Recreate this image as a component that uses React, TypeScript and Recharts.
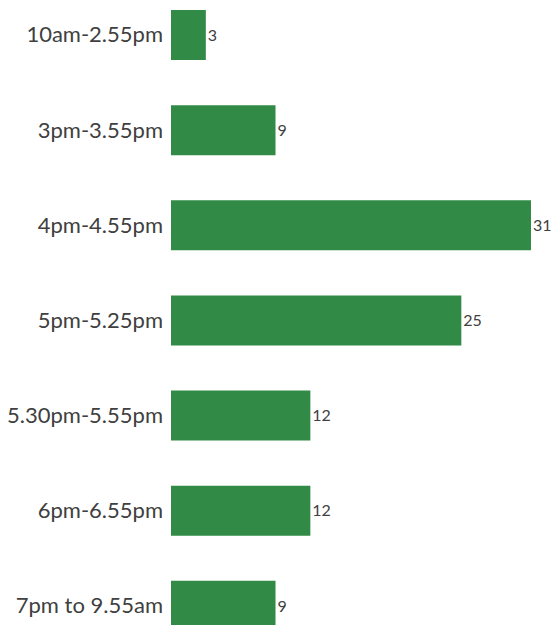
import { BarChart, Bar, XAxis, YAxis, LabelList } from 'recharts';

const slots = [
  '10am-2.55pm',
  '3pm-3.55pm',
  '4pm-4.55pm',
  '5pm-5.25pm',
  '5.30pm-5.55pm',
  '6pm-6.55pm',
  '7pm to 9.55am'
];
const counts = [3, 9, 31, 25, 12, 12, 9];

const data = slots.map((slot, i) => ({ slot, count: counts[i] }));

const FONT = 'Lato, "Noto Sans", sans-serif';

export default function App() {
  return (
    <div
      style={{
        position: 'absolute',
        top: 0,
        left: 0,
        width: 557,
        height: 625,
        overflow: 'hidden',
        background: '#fff'
      }}
    >
      <div style={{ marginTop: -13 }}>
        <BarChart
          width={557}
          height={666}
          data={data}
          layout="vertical"
          margin={{ top: 0, right: 26, bottom: 0, left: 0 }}
          barCategoryGap={22}
        >
          <XAxis type="number" domain={[0, 31]} hide />
          <YAxis
            type="category"
            dataKey="slot"
            width={171}
            axisLine={false}
            tickLine={false}
            tickMargin={2}
            tick={{ fill: '#404040', fontSize: 22, fontFamily: FONT }}
          />
          <Bar dataKey="count" fill="#318b46" barSize={50} isAnimationActive={false}>
            <LabelList
              dataKey="count"
              position="right"
              offset={2}
              style={{ fill: '#404040', fontSize: 16, fontFamily: FONT }}
            />
          </Bar>
        </BarChart>
      </div>
    </div>
  );
}
